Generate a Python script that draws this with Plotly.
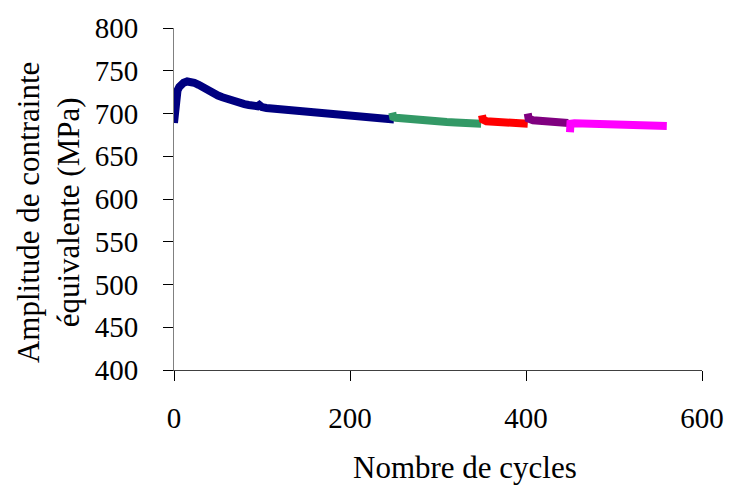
import plotly.graph_objects as go

# cycles / stress amplitude
cyc_1 = [0, 1, 2, 3, 4, 6, 8, 11, 15, 19, 23, 28, 34, 40, 45, 50, 55, 60, 65, 70, 75, 80,
         85, 90, 95, 97, 100, 105, 110, 115, 120, 125, 130, 135, 140, 145, 150, 152, 155,
         160, 165, 170, 175, 180, 185, 190, 195, 200, 205, 210, 215, 220, 225, 230, 235,
         240, 245, 250]
amp_1 = [689, 705, 715, 722, 727, 731, 734, 736, 737.5, 737.5, 736, 733.5, 729.5, 726, 723.5,
         721, 719, 717, 715.5, 714, 712.5, 711, 710, 709, 708.5, 710, 707.5, 706.5, 706,
         705, 704.5, 704, 703, 702.5, 702, 701.5, 701, 703, 700.5, 700, 699.5, 699, 698.5,
         698, 697.5, 697.5, 697, 696.5, 696, 696, 695.5, 695, 695, 694.5, 694, 694, 693.5, 693]

cyc_2 = [248, 249, 252, 260, 270, 280, 290, 300, 310, 320, 330, 340, 349]
amp_2 = [701, 696, 695, 694, 693, 692, 691, 690.5, 690, 689.5, 689, 688.5, 688]

cyc_3 = [350, 351, 355, 365, 375, 385, 395, 402]
amp_3 = [698, 693, 691, 690, 689.5, 689, 688.5, 688]

cyc_4 = [402, 403, 408, 418, 428, 438, 448]
amp_4 = [700, 694, 692, 691, 690, 689.5, 689]

cyc_5 = [450, 450.5, 455, 470, 490, 510, 530, 550, 560]
amp_5 = [678, 688, 688.5, 688, 687.5, 687, 686.5, 686, 685.5]

series = [
    (cyc_1, amp_1, "#000080"),
    (cyc_2, amp_2, "#339966"),
    (cyc_3, amp_3, "#FF0000"),
    (cyc_4, amp_4, "#800080"),
    (cyc_5, amp_5, "#FF00FF"),
]

font = "Liberation Serif, Times New Roman, serif"

fig = go.Figure()
for x, y, c in series:
    fig.add_trace(go.Scatter(x=x, y=y, mode="lines",
                             line=dict(color=c, width=8), showlegend=False))

fig.update_layout(
    width=736, height=491,
    margin=dict(l=174, r=25, t=28, b=121),
    plot_bgcolor="white", paper_bgcolor="white",
    font=dict(family=font, size=29, color="black"),
)
fig.update_xaxes(range=[0, 600], tickvals=[0, 200, 400, 600],
                 showgrid=False, zeroline=False,
                 showline=True, linecolor="#404040", linewidth=1,
                 ticks="outside", ticklen=10, tickcolor="black",
                 ticklabelstandoff=12)
fig.update_yaxes(range=[400, 800], dtick=50,
                 showgrid=False, zeroline=False,
                 showline=True, linecolor="#808080", linewidth=1,
                 ticks="outside", ticklen=10, tickcolor="black",
                 ticklabelstandoff=19)

fig.add_annotation(text="Amplitude de contrainte<br>équivalente (MPa)",
                   xref="paper", yref="paper", x=-0.238, y=0.46,
                   xanchor="center", yanchor="middle",
                   textangle=-90, showarrow=False,
                   font=dict(family=font, size=31))
fig.add_annotation(text="Nombre de cycles",
                   xref="paper", yref="paper", x=0.551, y=-0.285,
                   xanchor="center", yanchor="middle",
                   showarrow=False, font=dict(family=font, size=31))

# drop the default body margin so the figure fills the window exactly
fig.write_html("out.html", config={"displayModeBar": False},
               post_script="document.body.style.margin='0px';")
